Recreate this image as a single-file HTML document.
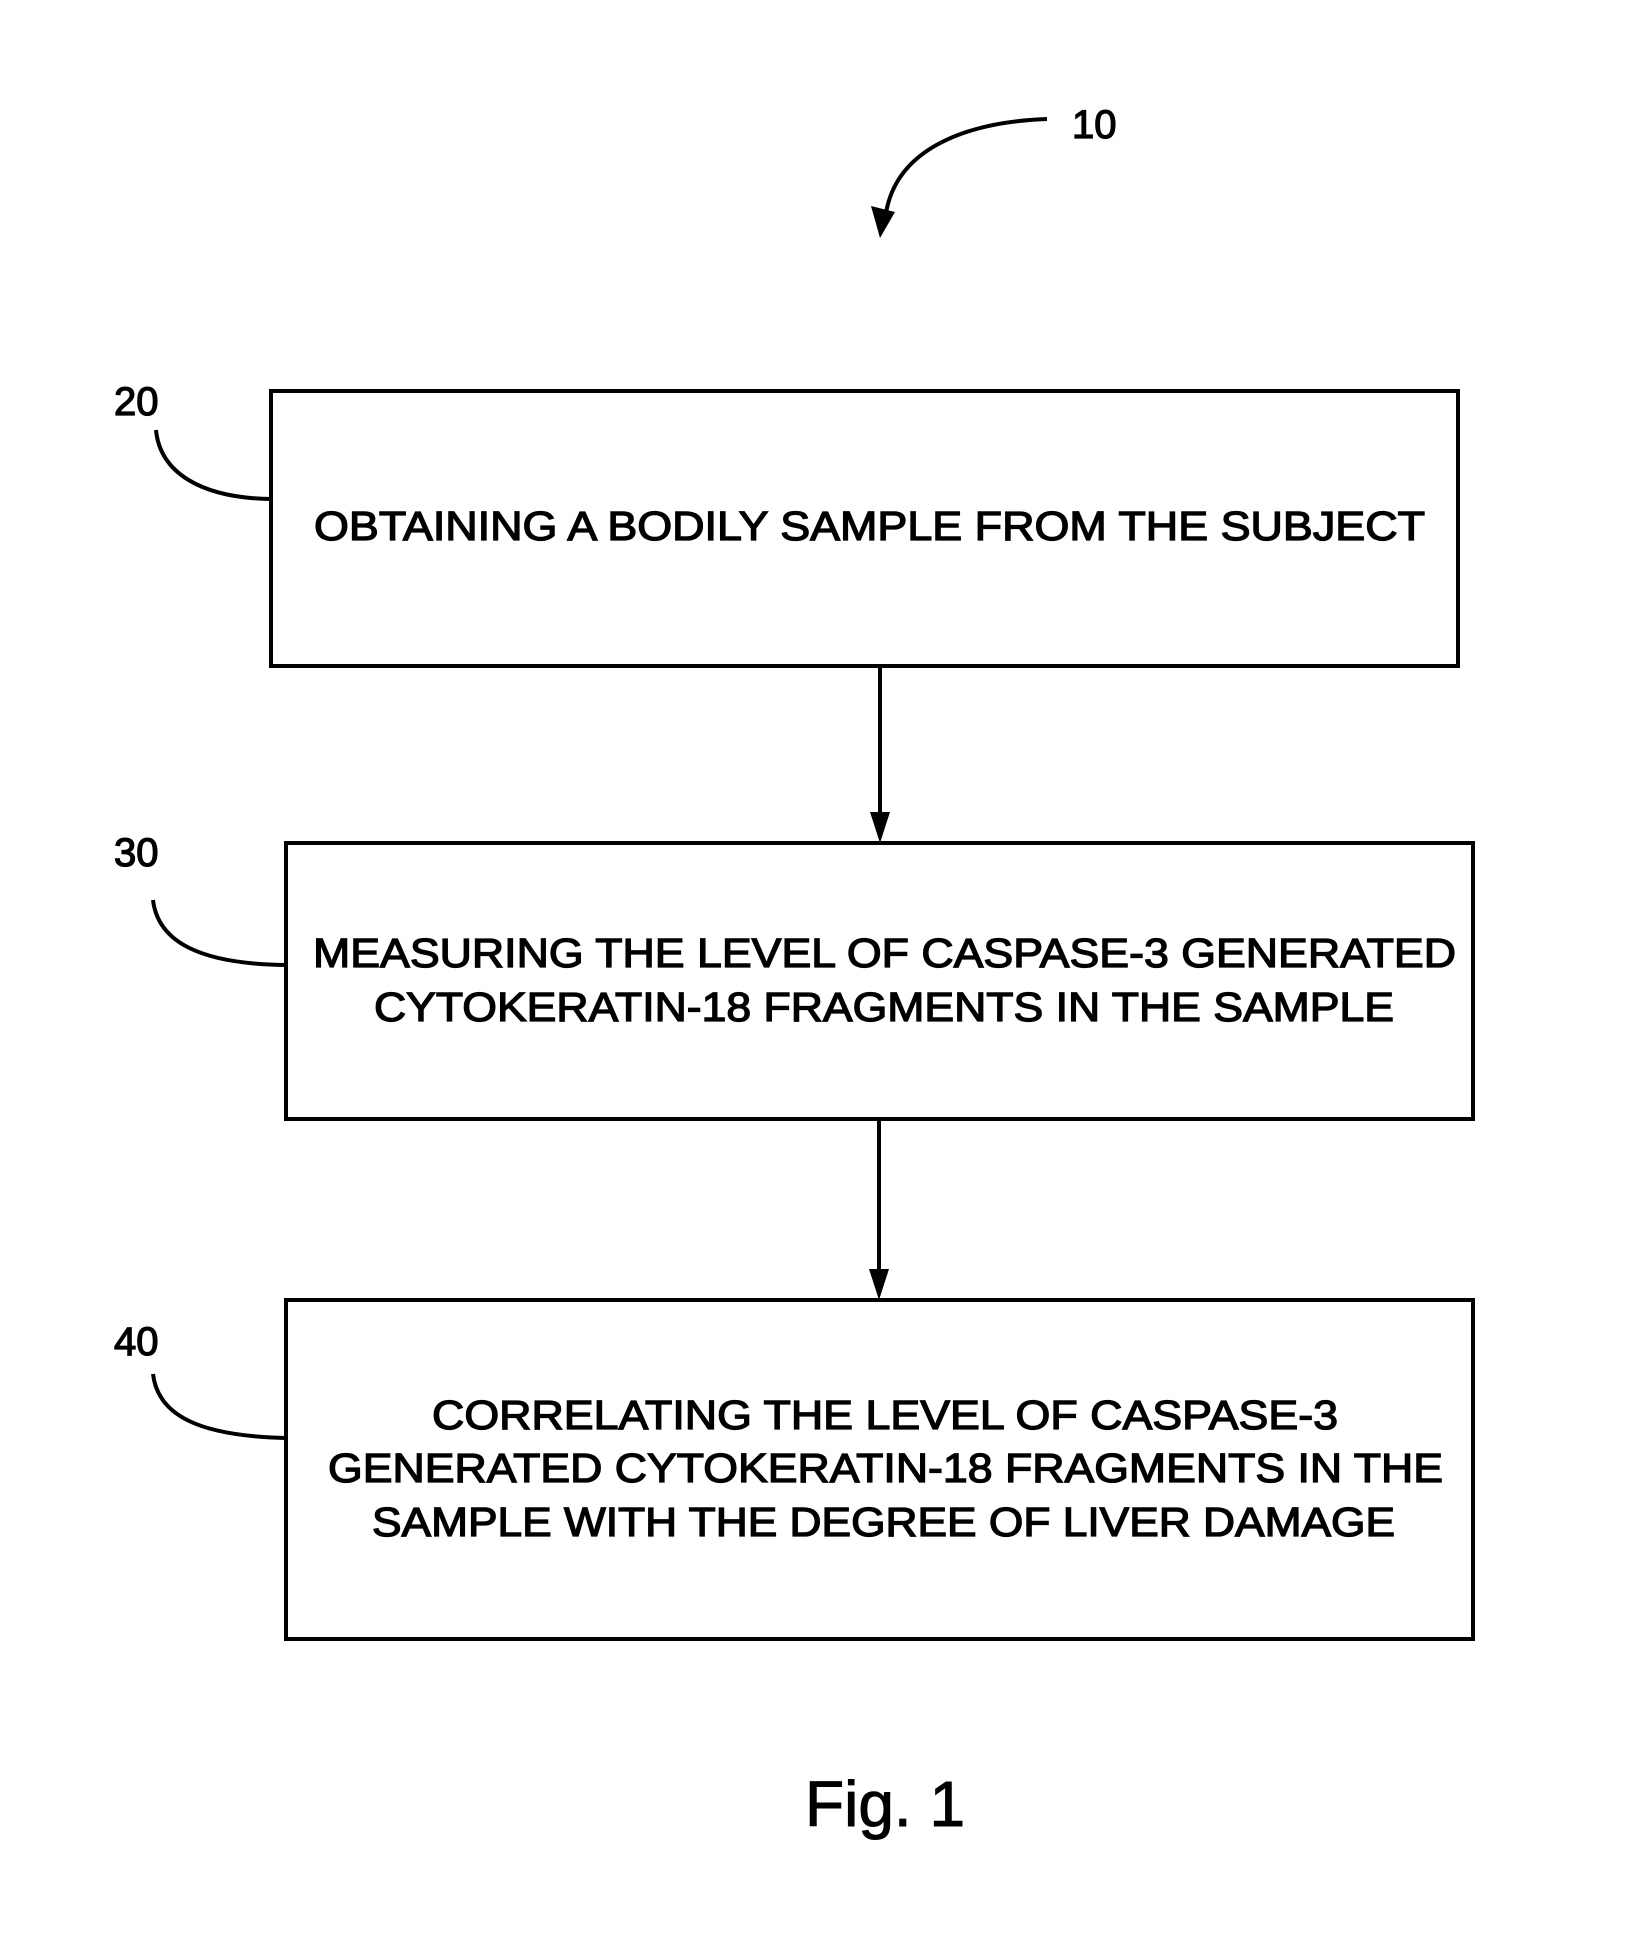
<!DOCTYPE html>
<html><head><meta charset="utf-8"><style>html,body{margin:0;padding:0;background:#fff}svg{display:block}</style></head>
<body>
<svg width="1650" height="1942" viewBox="0 0 1650 1942" xmlns="http://www.w3.org/2000/svg" font-family="Liberation Sans, Arial, sans-serif">
<g fill="none" stroke="#000" stroke-width="4">
<rect x="271" y="391" width="1187" height="275"/>
<rect x="286" y="843" width="1187" height="276"/>
<rect x="286" y="1300" width="1187" height="339"/>
<path d="M156 430 C160 472 200 498 271 499"/>
<path d="M153 900 C158 942 200 964 286 965"/>
<path d="M153 1374 C158 1416 200 1436 286 1438"/>
<path d="M1047 119 C967 122 897 148 886 213"/>
<line x1="880" y1="666" x2="880" y2="822"/>
<line x1="879" y1="1119" x2="879" y2="1278"/>
</g>
<g fill="#000">
<polygon points="871,206 895,212 880,238"/>
<polygon points="870,812 890,812 880,843"/>
<polygon points="869,1269 889,1269 879,1300"/>
</g>
<g fill="#000" stroke="#000" stroke-width="1.3" font-size="41">
<text x="314" y="540" textLength="1111" lengthAdjust="spacingAndGlyphs">OBTAINING A BODILY SAMPLE FROM THE SUBJECT</text>
<text x="313" y="967" textLength="1143" lengthAdjust="spacingAndGlyphs">MEASURING THE LEVEL OF CASPASE-3 GENERATED</text>
<text x="374" y="1021" textLength="1020" lengthAdjust="spacingAndGlyphs">CYTOKERATIN-18 FRAGMENTS IN THE SAMPLE</text>
<text x="432" y="1429" textLength="906" lengthAdjust="spacingAndGlyphs">CORRELATING THE LEVEL OF CASPASE-3</text>
<text x="328" y="1482" textLength="1115" lengthAdjust="spacingAndGlyphs">GENERATED CYTOKERATIN-18 FRAGMENTS IN THE</text>
<text x="372" y="1536" textLength="1023" lengthAdjust="spacingAndGlyphs">SAMPLE WITH THE DEGREE OF LIVER DAMAGE</text>
</g>
<g fill="#000" stroke="#000" stroke-width="1.3" font-size="40">
<text x="1072" y="138">10</text>
<text x="114" y="415">20</text>
<text x="114" y="866">30</text>
<text x="114" y="1355">40</text>
</g>
<text x="805" y="1826" font-size="64" fill="#000" stroke="#000" stroke-width="1">Fig. 1</text>
</svg>
</body></html>
